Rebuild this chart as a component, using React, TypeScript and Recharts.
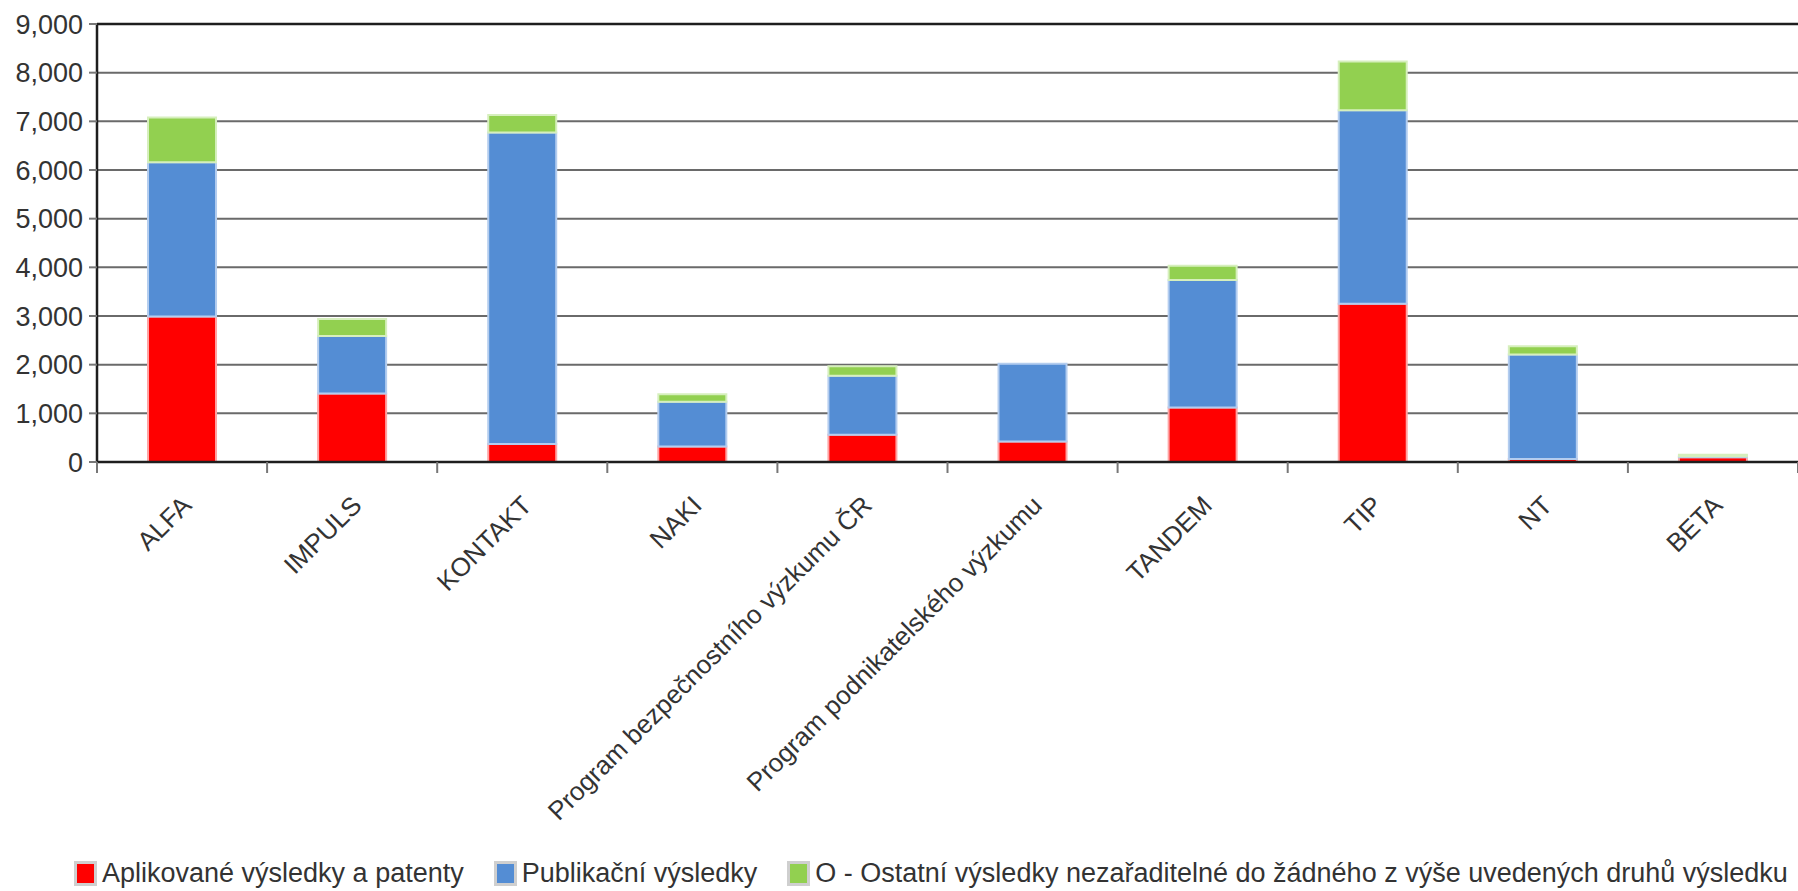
import React from 'react';
import {
  BarChart,
  Bar,
  XAxis,
  YAxis,
  CartesianGrid,
  Legend,
  ReferenceLine,
} from 'recharts';

// Programmes on the category axis
const PROGRAMS = [
  'ALFA',
  'IMPULS',
  'KONTAKT',
  'NAKI',
  'Program bezpečnostního výzkumu ČR',
  'Program podnikatelského výzkumu',
  'TANDEM',
  'TIP',
  'NT',
  'BETA',
];

// Series values
const APPLIED = [2990, 1410, 370, 320, 560, 420, 1120, 3250, 60, 100];
const PUBLICATIONS = [3170, 1180, 6400, 920, 1210, 1600, 2620, 3980, 2150, 20];
const OTHER = [920, 350, 360, 150, 200, 0, 290, 1000, 170, 30];

const Y_TICKS = [0, 1000, 2000, 3000, 4000, 5000, 6000, 7000, 8000, 9000];

const SERIES = [
  { key: 'applied', name: 'Aplikované výsledky a patenty', fill: '#ff0000', stroke: '#ffa3a3' },
  { key: 'publications', name: 'Publikační výsledky', fill: '#548dd4', stroke: '#b4cdef' },
  {
    key: 'other',
    name: 'O - Ostatní výsledky nezařaditelné do žádného z výše uvedených druhů výsledku',
    fill: '#92d050',
    stroke: '#d6efbd',
  },
];

const W = 1798;
const H = 891;
const Y_AXIS_W = 97;
const BAND = (W - Y_AXIS_W) / PROGRAMS.length;
const FONT = '"Liberation Sans", Arial, sans-serif';

const data = PROGRAMS.map((name, i) => ({
  name,
  applied: APPLIED[i],
  publications: PUBLICATIONS[i],
  other: OTHER[i],
}));

// label at the bar centre, tick marks on the category boundaries
function CategoryTick(props: any) {
  const { x, y, payload, index } = props;
  const last = index === PROGRAMS.length - 1;
  return (
    <g>
      <line x1={x - BAND / 2} x2={x - BAND / 2} y1={y} y2={y + 11} stroke="#777" strokeWidth={2} />
      {last && (
        <line x1={x + BAND / 2} x2={x + BAND / 2} y1={y} y2={y + 11} stroke="#777" strokeWidth={2} />
      )}
      <g transform={`translate(${x + 11},${y + 45})`}>
        <text transform="rotate(-45)" textAnchor="end" fontSize={26} fill="#333" fontFamily={FONT}>
          {payload.value}
        </text>
      </g>
    </g>
  );
}

function LegendContent() {
  return (
    <div
      style={{
        display: 'flex',
        alignItems: 'center',
        paddingLeft: 74,
        fontFamily: FONT,
        fontSize: 27,
        color: '#333',
        whiteSpace: 'nowrap',
      }}
    >
      {SERIES.map((s) => (
        <div key={s.key} style={{ display: 'flex', alignItems: 'center', marginRight: 30 }}>
          <span
            style={{
              display: 'inline-block',
              width: 17,
              height: 19,
              background: s.fill,
              border: '3px solid #cfcfcf',
              marginRight: 5,
            }}
          />
          <span>{s.name}</span>
        </div>
      ))}
    </div>
  );
}

export default function App() {
  return (
    <div style={{ position: 'absolute', left: 0, top: 0, width: W, height: H, background: '#fff' }}>
      <BarChart
        width={W}
        height={H}
        data={data}
        margin={{ top: 24, right: 0, left: 0, bottom: 29 }}
        barCategoryGap="30%"
      >
        <CartesianGrid horizontal vertical={false} stroke="#6a6a6a" strokeWidth={2} />
        <XAxis
          dataKey="name"
          interval={0}
          height={400}
          tickLine={false}
          tickSize={0}
          tickMargin={0}
          axisLine={{ stroke: '#1e1e1e', strokeWidth: 2.5 }}
          tick={<CategoryTick />}
        />
        <YAxis
          width={Y_AXIS_W}
          domain={[0, 9000]}
          ticks={Y_TICKS}
          interval={0}
          tickSize={8}
          tickMargin={6}
          tickLine={{ stroke: '#777', strokeWidth: 2 }}
          axisLine={{ stroke: '#1e1e1e', strokeWidth: 2.5 }}
          tickFormatter={(v: number) => v.toLocaleString('en-US')}
          tick={{ fontSize: 27, fill: '#333', fontFamily: FONT }}
        />
        <ReferenceLine y={9000} stroke="#1e1e1e" strokeWidth={2.5} />
        {SERIES.map((s) => (
          <Bar
            key={s.key}
            dataKey={s.key}
            name={s.name}
            stackId="a"
            fill={s.fill}
            stroke={s.stroke}
            strokeWidth={2}
            isAnimationActive={false}
          />
        ))}
        <Legend
          layout="horizontal"
          verticalAlign="middle"
          align="center"
          wrapperStyle={{ left: 0, top: 858, width: W }}
          content={<LegendContent />}
        />
      </BarChart>
    </div>
  );
}
